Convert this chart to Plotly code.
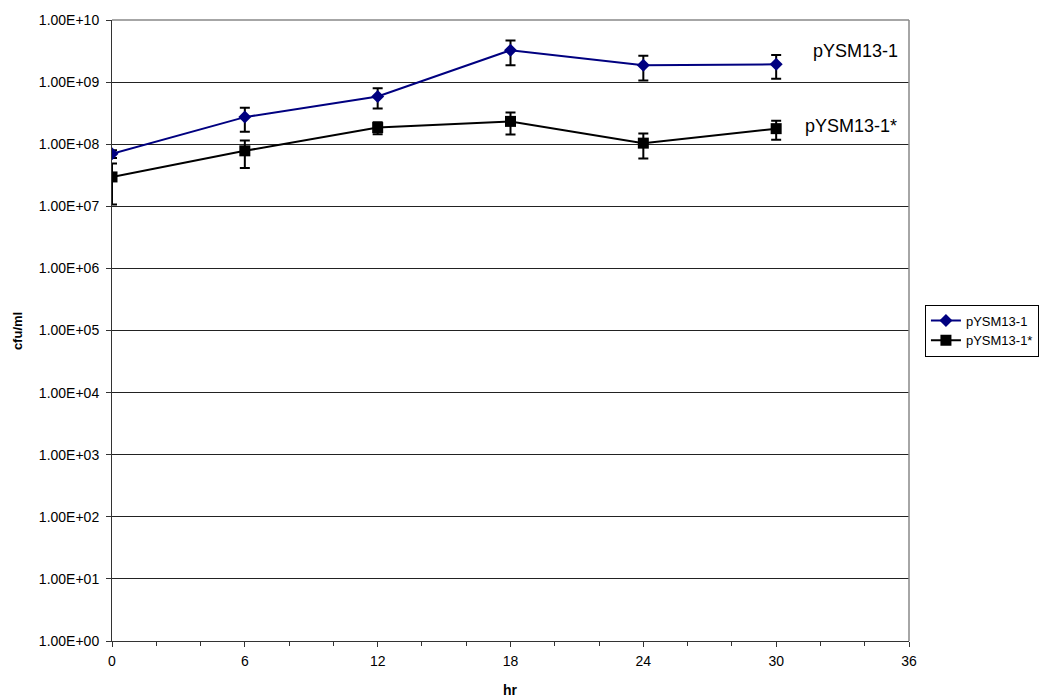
import plotly.graph_objects as go

hours = [0, 6, 12, 18, 24, 30]
pysm = [7.0e7, 2.73e8, 5.86e8, 3.27e9, 1.86e9, 1.93e9]
pysm_err = [1.0e7, 1.15e8, 2.1e8, 1.4e9, 0.8e9, 0.8e9]
pysm_star = [2.97e7, 7.82e7, 1.85e8, 2.33e8, 1.04e8, 1.78e8]
pysm_star_err = [1.9e7, 3.7e7, 4.0e7, 9.0e7, 4.5e7, 6.0e7]

ytick_vals = [1e0, 1e1, 1e2, 1e3, 1e4, 1e5, 1e6, 1e7, 1e8, 1e9, 1e10]
ytick_text = ["1.00E+00", "1.00E+01", "1.00E+02", "1.00E+03", "1.00E+04", "1.00E+05",
              "1.00E+06", "1.00E+07", "1.00E+08", "1.00E+09", "1.00E+10"]
xtick_vals = [0, 6, 12, 18, 24, 30, 36]

FONT = "Arial, Liberation Sans, sans-serif"

fig = go.Figure()
fig.add_trace(go.Scatter(
    x=hours, y=pysm, name="pYSM13-1", mode="lines+markers",
    line=dict(color="#000080", width=2),
    marker=dict(symbol="diamond", size=10, color="#000080"),
    error_y=dict(type="data", array=pysm_err, color="black", thickness=2, width=5),
))
fig.add_trace(go.Scatter(
    x=hours, y=pysm_star, name="pYSM13-1*", mode="lines+markers",
    line=dict(color="black", width=2),
    marker=dict(symbol="square", size=11, color="black"),
    error_y=dict(type="data", array=pysm_star_err, color="black", thickness=2, width=5),
))

fig.update_layout(
    width=1051, height=700,
    margin=dict(l=112, r=141, t=16, b=59),
    paper_bgcolor="white", plot_bgcolor="white",
    font=dict(family=FONT, size=14, color="black"),
    showlegend=True,
    legend=dict(x=1.02, y=0.5, xanchor="left", yanchor="middle",
                bordercolor="black", borderwidth=1, font=dict(size=13),
                itemwidth=30, tracegroupgap=0),
    xaxis=dict(range=[0, 36], tickmode="array", tickvals=xtick_vals,
               ticks="outside", ticklen=5, tickcolor="#333", showgrid=False,
               showline=True, linecolor="#333", linewidth=1, zeroline=False,
               minor=dict(dtick=2, ticks="outside", ticklen=4, tickcolor="#333", showgrid=False),
               tickfont=dict(size=14), ticklabelstandoff=2),
    yaxis=dict(type="log", range=[0, 10], tickmode="array", tickvals=ytick_vals,
               ticktext=ytick_text, ticks="outside", ticklen=5, tickcolor="#333",
               showgrid=True, gridcolor="#222", gridwidth=1,
               showline=True, linecolor="#333", linewidth=1, zeroline=False,
               tickfont=dict(size=14), ticklabelstandoff=4),
    annotations=[
        dict(text="pYSM13-1", x=33.6, y=9.504, xref="x", yref="y", showarrow=False,
             font=dict(size=18, color="black")),
        dict(text="pYSM13-1*", x=33.4, y=8.288, xref="x", yref="y", showarrow=False,
             font=dict(size=18, color="black")),
        dict(text="<b>cfu/ml</b>", x=0, y=0.5, xref="paper", yref="paper", showarrow=False,
             textangle=-90, font=dict(size=13), xanchor="center", yanchor="middle"),
        dict(text="<b>hr</b>", x=0.5, y=0, xref="paper", yref="paper", showarrow=False,
             font=dict(size=14), xanchor="center", yanchor="middle"),
    ],
    shapes=[
        dict(type="line", xref="paper", yref="paper", x0=0, x1=1, y0=1, y1=1,
             line=dict(color="#888", width=1.5)),
        dict(type="line", xref="paper", yref="paper", x0=1, x1=1, y0=0, y1=1,
             line=dict(color="#888", width=1.5)),
    ],
)
# axis-title positions via paper coords computed from pixel location
fig.layout.annotations[2].update(x=-(112 - 18) / 798, y=(641 - 329) / 625)
fig.layout.annotations[3].update(y=-(690 - 641) / 625)

fig.write_html("out.html")
